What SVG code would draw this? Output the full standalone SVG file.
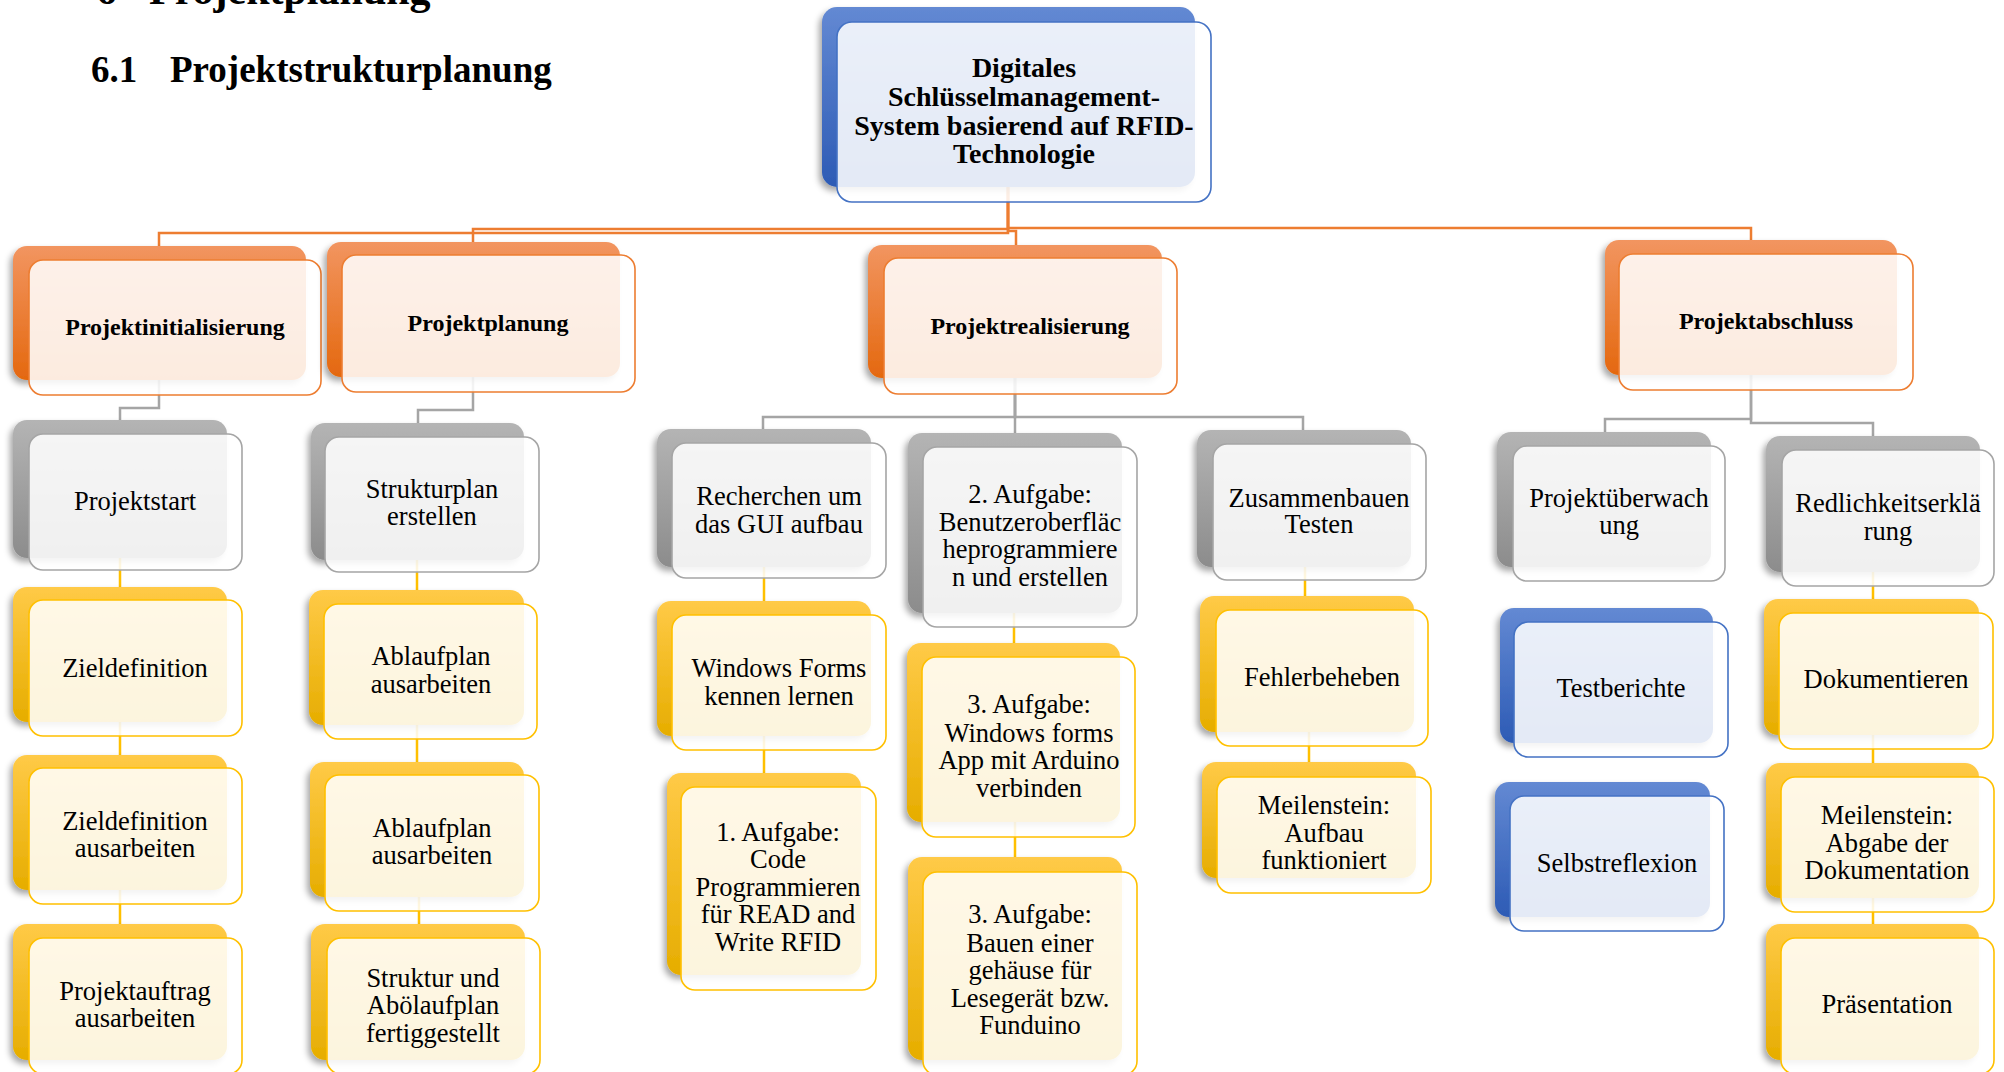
<svg xmlns="http://www.w3.org/2000/svg" width="2004" height="1072" viewBox="0 0 2004 1072">
  <defs>
    <linearGradient id="gO" x1="0" y1="0" x2="0" y2="1">
      <stop offset="0" stop-color="#F29560"/>
      <stop offset="1" stop-color="#E4680F"/>
    </linearGradient>
    <linearGradient id="gG" x1="0" y1="0" x2="0" y2="1">
      <stop offset="0" stop-color="#B4B4B4"/>
      <stop offset="1" stop-color="#8C8C8C"/>
    </linearGradient>
    <linearGradient id="gY" x1="0" y1="0" x2="0" y2="1">
      <stop offset="0" stop-color="#FFCA47"/>
      <stop offset="1" stop-color="#E6AD00"/>
    </linearGradient>
    <linearGradient id="gB" x1="0" y1="0" x2="0" y2="1">
      <stop offset="0" stop-color="#6389D3"/>
      <stop offset="1" stop-color="#2D5BB5"/>
    </linearGradient>
    <filter id="sh" x="-10%" y="-10%" width="120%" height="125%">
      <feDropShadow dx="-3" dy="4" stdDeviation="3" flood-color="#000" flood-opacity="0.35"/>
    </filter>
  </defs>
  <style>
    .bk { filter: url(#sh); }
    .fr { fill: #fff; fill-opacity: 0.87; stroke-width: 1.6; }
    .o .bk { fill: url(#gO); } .o .fr { stroke: #ED7D31; }
    .g .bk { fill: url(#gG); } .g .fr { stroke: #A5A5A5; }
    .y .bk { fill: url(#gY); } .y .fr { stroke: #FFC000; }
    .b .bk { fill: url(#gB); } .b .fr { stroke: #4472C4; }
    text { font-family: "Liberation Serif", "Times New Roman", serif; fill: #000; }
    .t { font-size: 26.5px; text-anchor: middle; }
    .tb { font-size: 24px; font-weight: bold; text-anchor: middle; }
    .tr { font-size: 28px; font-weight: bold; text-anchor: middle; }
    .h { font-weight: bold; }
    .c { fill: none; stroke-width: 2.5; }
    .co { stroke: #ED7D31; }
    .cg { stroke: #A5A5A5; }
    .cy { stroke: #FFC000; }
  </style>

  <!-- headings -->
  <g id="headings">
    <text class="h" x="96" y="4" font-size="42">6</text>
    <text class="h" x="149" y="4" font-size="42">Projektplanung</text>
    <text class="h" x="91" y="82" font-size="37">6.1</text>
    <text class="h" x="170" y="82" font-size="37">Projektstrukturplanung</text>
  </g>

  <!-- connectors -->
  <g id="connectors">
    <path class="c co" d="M1008,187 V233 H159 V246"/>
    <path class="c co" d="M1008,187 V229 H473 V242"/>
    <path class="c co" d="M1008,187 V231 H1016 V245"/>
    <path class="c co" d="M1008,187 V228 H1751 V240"/>

    <path class="c cg" d="M159,380 V408 H120 V420"/>
    <path class="c cg" d="M473,377 V410 H418 V423"/>
    <path class="c cg" d="M1015,378 V417 H763 V429"/>
    <path class="c cg" d="M1015,378 V433"/>
    <path class="c cg" d="M1015,378 V417 H1303 V430"/>
    <path class="c cg" d="M1751,375 V419 H1605 V432"/>
    <path class="c cg" d="M1751,375 V423 H1873 V436"/>

    <path class="c cy" d="M120,558 V587 M120,722 V755 M120,890 V924"/>
    <path class="c cy" d="M417,560 V590 M417,725 V762 M419,897 V924"/>
    <path class="c cy" d="M764,567 V601 M764,736 V773"/>
    <path class="c cy" d="M1014,613 V643 M1015,822 V857"/>
    <path class="c cy" d="M1305,567 V596 M1309,732 V762"/>
    <path class="c cy" d="M1873,572 V599 M1873,735 V763 M1873,898 V924"/>
  </g>

  <!-- root -->
  <g id="n-root" class="b">
    <rect class="bk" x="822" y="7" width="373" height="180" rx="15"/>
    <rect class="fr" x="837" y="22" width="374" height="180" rx="15"/>
    <text class="tr"><tspan x="1024" y="77">Digitales</tspan><tspan x="1024" y="106">Schlüsselmanagement-</tspan><tspan x="1024" y="135">System basierend auf RFID-</tspan><tspan x="1024" y="163">Technologie</tspan></text>
  </g>

  <!-- phases -->
  <g id="n-init" class="o">
    <rect class="bk" x="13" y="246" width="293" height="134" rx="14"/>
    <rect class="fr" x="29" y="260" width="292" height="135" rx="14"/>
    <text class="tb" x="175" y="335">Projektinitialisierung</text>
  </g>
  <g id="n-plan" class="o">
    <rect class="bk" x="327" y="242" width="293" height="135" rx="14"/>
    <rect class="fr" x="342" y="255" width="293" height="137" rx="14"/>
    <text class="tb" x="488" y="331">Projektplanung</text>
  </g>
  <g id="n-real" class="o">
    <rect class="bk" x="868" y="245" width="294" height="133" rx="14"/>
    <rect class="fr" x="884" y="258" width="293" height="136" rx="14"/>
    <text class="tb" x="1030" y="334">Projektrealisierung</text>
  </g>
  <g id="n-abs" class="o">
    <rect class="bk" x="1605" y="240" width="292" height="135" rx="14"/>
    <rect class="fr" x="1619" y="254" width="294" height="136" rx="14"/>
    <text class="tb" x="1766" y="329">Projektabschluss</text>
  </g>

  <!-- Projektinitialisierung -->
  <g id="n-start" class="g">
    <rect class="bk" x="13" y="420" width="214" height="138" rx="14"/>
    <rect class="fr" x="29" y="434" width="213" height="136" rx="14"/>
    <text class="t" x="135" y="510">Projektstart</text>
  </g>
  <g id="n-ziel" class="y">
    <rect class="bk" x="13" y="587" width="214" height="135" rx="14"/>
    <rect class="fr" x="29" y="600" width="213" height="136" rx="14"/>
    <text class="t" x="135" y="677">Zieldefinition</text>
  </g>
  <g id="n-ziel2" class="y">
    <rect class="bk" x="13" y="755" width="214" height="135" rx="14"/>
    <rect class="fr" x="29" y="768" width="213" height="136" rx="14"/>
    <text class="t"><tspan x="135" y="830">Zieldefinition</tspan><tspan x="135" y="857">ausarbeiten</tspan></text>
  </g>
  <g id="n-auftrag" class="y">
    <rect class="bk" x="13" y="924" width="214" height="136" rx="14"/>
    <rect class="fr" x="29" y="938" width="213" height="136" rx="14"/>
    <text class="t"><tspan x="135" y="1000">Projektauftrag</tspan><tspan x="135" y="1027">ausarbeiten</tspan></text>
  </g>

  <!-- Projektplanung -->
  <g id="n-struct" class="g">
    <rect class="bk" x="311" y="423" width="213" height="137" rx="14"/>
    <rect class="fr" x="325" y="437" width="214" height="135" rx="14"/>
    <text class="t"><tspan x="432" y="498">Strukturplan</tspan><tspan x="432" y="525">erstellen</tspan></text>
  </g>
  <g id="n-abl1" class="y">
    <rect class="bk" x="309" y="590" width="215" height="135" rx="14"/>
    <rect class="fr" x="324" y="604" width="213" height="135" rx="14"/>
    <text class="t"><tspan x="431" y="665">Ablaufplan</tspan><tspan x="431" y="693">ausarbeiten</tspan></text>
  </g>
  <g id="n-abl2" class="y">
    <rect class="bk" x="310" y="762" width="214" height="135" rx="14"/>
    <rect class="fr" x="325" y="775" width="214" height="136" rx="14"/>
    <text class="t"><tspan x="432" y="837">Ablaufplan</tspan><tspan x="432" y="864">ausarbeiten</tspan></text>
  </g>
  <g id="n-fertig" class="y">
    <rect class="bk" x="311" y="924" width="214" height="136" rx="14"/>
    <rect class="fr" x="327" y="938" width="213" height="136" rx="14"/>
    <text class="t"><tspan x="433" y="987">Struktur und</tspan><tspan x="433" y="1014">Abölaufplan</tspan><tspan x="433" y="1042">fertiggestellt</tspan></text>
  </g>

  <!-- Projektrealisierung -->
  <g id="n-rech" class="g">
    <rect class="bk" x="657" y="429" width="214" height="138" rx="14"/>
    <rect class="fr" x="672" y="443" width="214" height="135" rx="14"/>
    <text class="t"><tspan x="779" y="505">Recherchen um</tspan><tspan x="779" y="533">das GUI aufbau</tspan></text>
  </g>
  <g id="n-win" class="y">
    <rect class="bk" x="657" y="601" width="214" height="135" rx="14"/>
    <rect class="fr" x="672" y="615" width="214" height="135" rx="14"/>
    <text class="t"><tspan x="779" y="677">Windows Forms</tspan><tspan x="779" y="705">kennen lernen</tspan></text>
  </g>
  <g id="n-auf1" class="y">
    <rect class="bk" x="667" y="773" width="194" height="202" rx="14"/>
    <rect class="fr" x="681" y="787" width="195" height="203" rx="14"/>
    <text class="t"><tspan x="778" y="841">1. Aufgabe:</tspan><tspan x="778" y="868">Code</tspan><tspan x="778" y="896">Programmieren</tspan><tspan x="778" y="923">für READ and</tspan><tspan x="778" y="951">Write RFID</tspan></text>
  </g>
  <g id="n-auf2" class="g">
    <rect class="bk" x="908" y="433" width="214" height="180" rx="14"/>
    <rect class="fr" x="923" y="447" width="214" height="180" rx="14"/>
    <text class="t"><tspan x="1030" y="503">2. Aufgabe:</tspan><tspan x="1030" y="531">Benutzeroberfläc</tspan><tspan x="1030" y="558">heprogrammiere</tspan><tspan x="1030" y="586">n und erstellen</tspan></text>
  </g>
  <g id="n-auf3a" class="y">
    <rect class="bk" x="907" y="643" width="213" height="179" rx="14"/>
    <rect class="fr" x="922" y="657" width="213" height="180" rx="14"/>
    <text class="t"><tspan x="1029" y="713">3. Aufgabe:</tspan><tspan x="1029" y="742">Windows forms</tspan><tspan x="1029" y="769">App mit Arduino</tspan><tspan x="1029" y="797">verbinden</tspan></text>
  </g>
  <g id="n-auf3b" class="y">
    <rect class="bk" x="908" y="857" width="214" height="203" rx="14"/>
    <rect class="fr" x="923" y="872" width="214" height="203" rx="14"/>
    <text class="t"><tspan x="1030" y="923">3. Aufgabe:</tspan><tspan x="1030" y="952">Bauen einer</tspan><tspan x="1030" y="979">gehäuse für</tspan><tspan x="1030" y="1007">Lesegerät bzw.</tspan><tspan x="1030" y="1034">Funduino</tspan></text>
  </g>
  <g id="n-zus" class="g">
    <rect class="bk" x="1197" y="430" width="214" height="137" rx="14"/>
    <rect class="fr" x="1213" y="444" width="213" height="136" rx="14"/>
    <text class="t"><tspan x="1319" y="507">Zusammenbauen</tspan><tspan x="1319" y="533">Testen</tspan></text>
  </g>
  <g id="n-fehler" class="y">
    <rect class="bk" x="1200" y="596" width="214" height="136" rx="14"/>
    <rect class="fr" x="1216" y="610" width="212" height="136" rx="14"/>
    <text class="t" x="1322" y="686">Fehlerbeheben</text>
  </g>
  <g id="n-meil1" class="y">
    <rect class="bk" x="1202" y="762" width="214" height="116" rx="14"/>
    <rect class="fr" x="1217" y="777" width="214" height="116" rx="14"/>
    <text class="t"><tspan x="1324" y="814">Meilenstein:</tspan><tspan x="1324" y="842">Aufbau</tspan><tspan x="1324" y="869">funktioniert</tspan></text>
  </g>

  <!-- Projektabschluss -->
  <g id="n-ueb" class="g">
    <rect class="bk" x="1497" y="432" width="214" height="135" rx="14"/>
    <rect class="fr" x="1513" y="446" width="212" height="135" rx="14"/>
    <text class="t"><tspan x="1619" y="507">Projektüberwach</tspan><tspan x="1619" y="534">ung</tspan></text>
  </g>
  <g id="n-testb" class="b">
    <rect class="bk" x="1500" y="608" width="213" height="135" rx="14"/>
    <rect class="fr" x="1514" y="622" width="214" height="135" rx="14"/>
    <text class="t" x="1621" y="697">Testberichte</text>
  </g>
  <g id="n-selbst" class="b">
    <rect class="bk" x="1495" y="782" width="215" height="135" rx="14"/>
    <rect class="fr" x="1510" y="796" width="214" height="135" rx="14"/>
    <text class="t" x="1617" y="872">Selbstreflexion</text>
  </g>
  <g id="n-redl" class="g">
    <rect class="bk" x="1766" y="436" width="214" height="136" rx="14"/>
    <rect class="fr" x="1782" y="450" width="212" height="136" rx="14"/>
    <text class="t"><tspan x="1888" y="512">Redlichkeitserklä</tspan><tspan x="1888" y="540">rung</tspan></text>
  </g>
  <g id="n-doku" class="y">
    <rect class="bk" x="1764" y="599" width="215" height="136" rx="14"/>
    <rect class="fr" x="1779" y="613" width="214" height="136" rx="14"/>
    <text class="t" x="1886" y="688">Dokumentieren</text>
  </g>
  <g id="n-meil2" class="y">
    <rect class="bk" x="1766" y="763" width="213" height="135" rx="14"/>
    <rect class="fr" x="1781" y="777" width="213" height="135" rx="14"/>
    <text class="t"><tspan x="1887" y="824">Meilenstein:</tspan><tspan x="1887" y="852">Abgabe der</tspan><tspan x="1887" y="879">Dokumentation</tspan></text>
  </g>
  <g id="n-praes" class="y">
    <rect class="bk" x="1766" y="924" width="213" height="136" rx="14"/>
    <rect class="fr" x="1781" y="938" width="213" height="136" rx="14"/>
    <text class="t" x="1887" y="1013">Präsentation</text>
  </g>
</svg>
